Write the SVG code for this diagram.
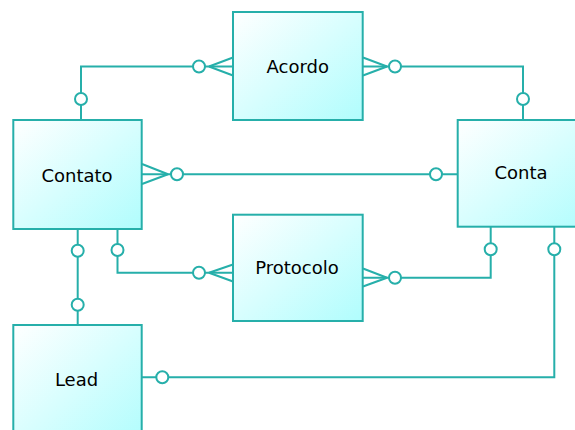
<svg xmlns="http://www.w3.org/2000/svg" width="575" height="430" viewBox="0 0 575 430">
<defs>
<linearGradient id="g" x1="0" y1="0" x2="1" y2="1">
<stop offset="0" stop-color="#ffffff"/>
<stop offset="1" stop-color="#b0fdfd"/>
</linearGradient>
<style>
.box{fill:url(#g);stroke:#26afaa;stroke-width:2}
.lbl{font-family:"DejaVu Sans",Verdana,sans-serif;font-size:18px;fill:#000000;text-anchor:middle}
.ln{fill:none;stroke:#26afaa;stroke-width:2}
.c{fill:#ffffff;stroke:#26afaa;stroke-width:2}
</style>
</defs>
<rect width="575" height="430" fill="#ffffff"/>
<g id="connectors">
<!-- Contato - Acordo -->
<polyline class="ln" points="81,120 81,66.5 233,66.5"/>
<path class="ln" d="M209,66.5 L233,57.5 M209,66.5 L233,75.5"/>
<circle class="c" cx="81" cy="99" r="6"/>
<circle class="c" cx="199" cy="66.5" r="6"/>
<!-- Acordo - Conta -->
<polyline class="ln" points="363,66.5 523,66.5 523,120"/>
<path class="ln" d="M387,66.5 L363,57.5 M387,66.5 L363,75.5"/>
<circle class="c" cx="395" cy="66.5" r="6"/>
<circle class="c" cx="523" cy="99" r="6"/>
<!-- Contato - Conta -->
<line class="ln" x1="142" y1="174.3" x2="458" y2="174.3"/>
<path class="ln" d="M168,174.3 L142,164 M168,174.3 L142,184"/>
<circle class="c" cx="177" cy="174.3" r="6"/>
<circle class="c" cx="436" cy="174.3" r="6"/>
<!-- Contato - Protocolo -->
<polyline class="ln" points="117.5,229 117.5,272.7 233,272.7"/>
<path class="ln" d="M209,272.7 L233,264.5 M209,272.7 L233,281.5"/>
<circle class="c" cx="117.5" cy="250" r="6"/>
<circle class="c" cx="199" cy="272.7" r="6"/>
<!-- Protocolo - Conta -->
<polyline class="ln" points="363,277.7 490.7,277.7 490.7,227"/>
<path class="ln" d="M387,277.7 L363,268.5 M387,277.7 L363,286.5"/>
<circle class="c" cx="395" cy="277.7" r="6"/>
<circle class="c" cx="490.7" cy="249.3" r="6"/>
<!-- Contato - Lead -->
<line class="ln" x1="77.7" y1="229" x2="77.7" y2="325"/>
<circle class="c" cx="77.7" cy="250.7" r="6"/>
<circle class="c" cx="77.7" cy="304.7" r="6"/>
<!-- Lead - Conta -->
<polyline class="ln" points="142,377.3 554.3,377.3 554.3,227"/>
<circle class="c" cx="162.3" cy="377.3" r="6"/>
<circle class="c" cx="554.3" cy="249.3" r="6"/>
</g>
<g id="acordo">
<rect class="box" x="233" y="12" width="129.7" height="108"/>
<text class="lbl" x="297.8" y="73">Acordo</text>
</g>
<g id="contato">
<rect class="box" x="13.3" y="120" width="128.4" height="109"/>
<text class="lbl" x="77" y="181.5">Contato</text>
</g>
<g id="conta">
<rect class="box" x="457.7" y="120" width="135" height="106.7"/>
<text class="lbl" x="521" y="179.3">Conta</text>
</g>
<g id="protocolo">
<rect class="box" x="233" y="214.7" width="129.7" height="106.3"/>
<text class="lbl" x="297" y="274.3">Protocolo</text>
</g>
<g id="lead">
<rect class="box" x="13.3" y="325" width="128.4" height="120"/>
<text class="lbl" x="76.5" y="386">Lead</text>
</g>
</svg>
